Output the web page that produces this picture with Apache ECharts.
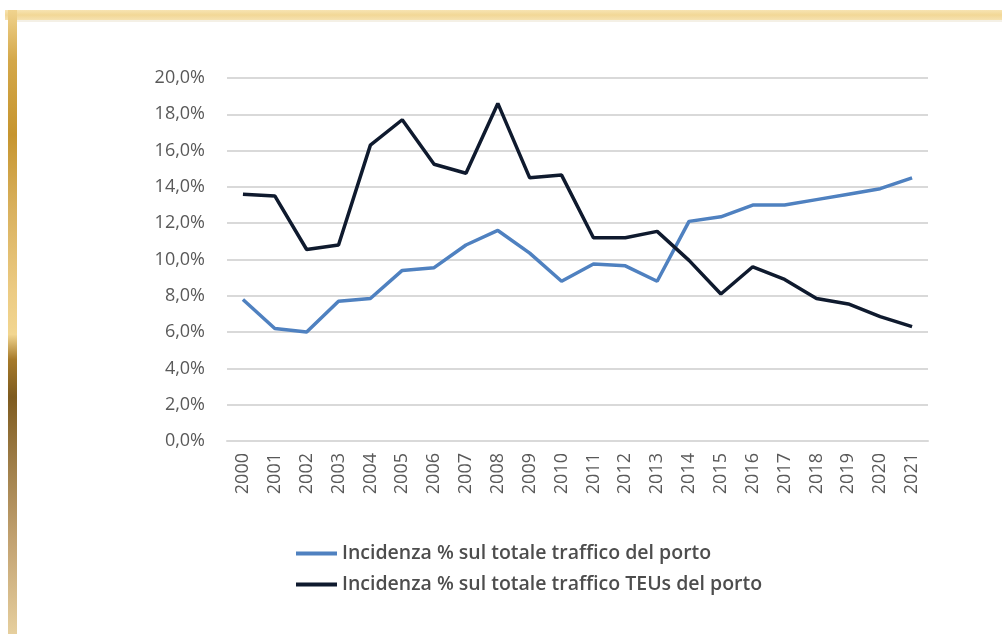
<!DOCTYPE html>
<html>
<head>
<meta charset="utf-8">
<script src="https://cdn.jsdelivr.net/npm/echarts@6/dist/echarts.min.js"></script>
<style>
  html, body { margin: 0; padding: 0; background: #ffffff; }
  #chart { width: 1002px; height: 634px; }
</style>
</head>
<body>
<div id="chart"></div>
<script>
const years = ['2000', '2001', '2002', '2003', '2004', '2005', '2006', '2007', '2008', '2009', '2010',
  '2011', '2012', '2013', '2014', '2015', '2016', '2017', '2018', '2019', '2020', '2021'];

// Incidenza % sul totale traffico del porto
const trafficoPorto = [7.8, 6.2, 6.0, 7.7, 7.85, 9.4, 9.55, 10.8, 11.6, 10.35, 8.8,
  9.75, 9.65, 8.8, 12.1, 12.35, 13.0, 13.0, 13.3, 13.6, 13.9, 14.5];

// Incidenza % sul totale traffico TEUs del porto
const trafficoTeus = [13.6, 13.5, 10.55, 10.8, 16.3, 17.7, 15.25, 14.75, 18.6, 14.5, 14.65,
  11.2, 11.2, 11.55, 9.95, 8.1, 9.6, 8.9, 7.85, 7.55, 6.85, 6.3];

const seriesNames = [
  'Incidenza % sul totale traffico del porto',
  'Incidenza % sul totale traffico TEUs del porto'
];

const textGray = '#595959';
const gridGray = '#d9d9d9';
const font = 'Open Sans';

const chart = echarts.init(document.getElementById('chart'));

const option = {
  backgroundColor: '#ffffff',
  animation: false,
  textStyle: { fontFamily: font },
  grid: { left: 227, right: 74, top: 78, bottom: 193 },
  legend: {
    orient: 'vertical',
    left: 291,
    top: 538,
    itemWidth: 41,
    itemHeight: 4,
    itemGap: 10,
    icon: 'rect',
    textStyle: { color: '#4d4d4d', fontSize: 19.5, fontWeight: 600, fontFamily: font, lineHeight: 21 },
    data: seriesNames
  },
  xAxis: {
    type: 'category',
    data: years,
    boundaryGap: true,
    axisLine: { show: true, lineStyle: { color: gridGray, width: 2 } },
    axisTick: { show: false },
    axisLabel: { rotate: 90, color: textGray, fontSize: 18, margin: 12, fontFamily: font }
  },
  yAxis: {
    type: 'value',
    min: 0,
    max: 20,
    interval: 2,
    axisLine: { show: false },
    axisTick: { show: false },
    splitLine: { lineStyle: { color: gridGray, width: 2 } },
    axisLabel: {
      color: textGray,
      fontSize: 18,
      margin: 22,
      fontFamily: font,
      formatter: v => v.toFixed(1).replace('.', ',') + '%'
    }
  },
  series: [
    {
      name: seriesNames[0],
      type: 'line',
      data: trafficoPorto,
      symbol: 'none',
      color: '#4f81c0',
      lineStyle: { width: 3.5, color: '#4f81c0' }
    },
    {
      name: seriesNames[1],
      type: 'line',
      data: trafficoTeus,
      symbol: 'none',
      color: '#0f1a2e',
      lineStyle: { width: 3.5, color: '#0f1a2e' }
    }
  ],
  graphic: [
    {
      type: 'rect',
      shape: { x: 5, y: 10, width: 997, height: 10 },
      style: {
        fill: new echarts.graphic.LinearGradient(0, 0, 0, 1, [
          { offset: 0, color: '#f7e4b2' },
          { offset: 0.5, color: '#f2d796' },
          { offset: 1, color: '#f6e2b0' }
        ])
      },
      silent: true
    },
    {
      type: 'rect',
      shape: { x: 8, y: 10, width: 9, height: 624 },
      style: {
        fill: new echarts.graphic.LinearGradient(0, 0, 0, 1, [
          { offset: 0, color: '#f0d38e' },
          { offset: 0.08, color: '#d4a84a' },
          { offset: 0.2, color: '#c6952f' },
          { offset: 0.32, color: '#d9b15e' },
          { offset: 0.45, color: '#eccb83' },
          { offset: 0.52, color: '#f2d690' },
          { offset: 0.56, color: '#a67a2a' },
          { offset: 0.62, color: '#7e5b1f' },
          { offset: 0.72, color: '#9c7b45' },
          { offset: 0.85, color: '#c2a271' },
          { offset: 1, color: '#e6cf9e' }
        ])
      },
      silent: true
    },
    {
      type: 'rect',
      shape: { x: 17, y: 20, width: 985, height: 2 },
      style: { fill: '#f4f0e6' },
      silent: true
    }
  ]
};

chart.setOption(option);
</script>
</body>
</html>
